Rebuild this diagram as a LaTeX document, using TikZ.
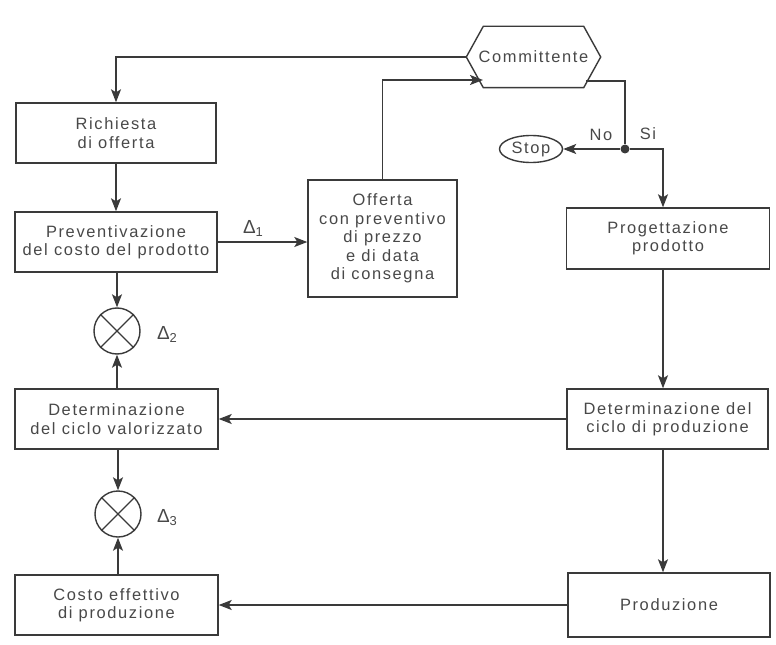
\documentclass[tikz,border=0pt]{standalone}
\usepackage{fontspec}
\setmainfont{Liberation Sans}
\newfontfamily\lblfont[LetterSpace=10]{Liberation Sans}
\usetikzlibrary{arrows.meta,shapes.geometric}
\definecolor{ink}{HTML}{3A3A3A}
\definecolor{txt}{HTML}{484848}
\newcommand{\dsub}[1]{{\fontsize{19}{19}\selectfont\char"0394}\raisebox{-3bp}{\fontsize{13}{13}\selectfont #1}}
\begin{document}
\begin{tikzpicture}[x=1bp,y=-1bp,
  line width=1.4bp,
  every node/.style={font=\lblfont\fontsize{16.5}{18.5}\selectfont, text=txt},
  box/.style={draw=ink, rectangle, align=center, inner sep=0pt},
  flow/.style={draw=ink, -{Stealth[length=13bp,width=10bp,inset=3bp]}},
  plain/.style={draw=ink},
  mix/.style={draw=ink, circle, minimum size=46bp, inner sep=0pt},
  lbl/.style={inner sep=0pt}]
\useasboundingbox (0,0) rectangle (776,645);

% process boxes
\node[box, minimum width=200bp, minimum height=60bp] (richiesta) at (116,133) {Richiesta\\di offerta};
\node[box, minimum width=202bp, minimum height=60bp] (prev) at (116,242) {Preventivazione\\del costo del prodotto};
\node[box, minimum width=149bp, minimum height=117bp] (offerta) at (382.5,238.5) {Offerta\\con preventivo\\di prezzo\\e di data\\di consegna};
\node[box, minimum width=203bp, minimum height=61bp] (prog) at (668,238.5) {Progettazione\\prodotto};
\node[box, minimum width=201bp, minimum height=60bp] (detprod) at (667.5,419) {Determinazione del\\ciclo di produzione};
\node[box, minimum width=203bp, minimum height=60bp] (detval) at (116.5,419) {Determinazione\\del ciclo valorizzato};
\node[box, minimum width=202bp, minimum height=64bp] (prod) at (669,605) {Produzione};
\node[box, minimum width=203bp, minimum height=60bp] (costo) at (116.5,605) {Costo effettivo\\di produzione};

% customer (hexagon)
\node[inner sep=0pt, minimum width=133bp, minimum height=60bp] (comm) at (533.5,57) {Committente};
\draw[ink] (comm.west) -- ([xshift=17bp]comm.north west) -- ([xshift=-17bp]comm.north east)
  -- (comm.east) -- ([xshift=-17bp]comm.south east) -- ([xshift=17bp]comm.south west) -- cycle;

% stop terminal and decision point
\node[draw=ink, ellipse, minimum width=63bp, minimum height=27bp, inner sep=0pt] (stop) at (531,149) {Stop};
\node[circle, fill=ink, minimum size=9bp, inner sep=0pt] (dec) at (625,149) {};

% comparison nodes
\node[mix] (c2) at (117,331) {};
\draw[ink] (c2.north west) -- (c2.south east) (c2.north east) -- (c2.south west);
\node[mix] (c3) at (118,514) {};
\draw[ink] (c3.north west) -- (c3.south east) (c3.north east) -- (c3.south west);

% connector end points on the hexagon edges
\coordinate (cin) at (483,80);
\coordinate (cout) at (586,81);
\coordinate (turn) at (663,149);

% connectors
\draw[flow] (comm.west) -| (richiesta.north);
\draw[flow] (richiesta) -- (prev);
\draw[flow] (prev.east) -- (prev.east -| offerta.west);
\draw[flow] (offerta.north) |- (cin);
\draw[plain] (cout) -| (dec);
\draw[flow] (dec) -- (stop.east);
\draw[flow] (dec) -- (turn) -- (turn |- prog.north);
\draw[flow] (prog.south -| turn) -- (turn |- detprod.north);
\draw[flow] (detprod.south -| turn) -- (turn |- prod.north);
\draw[flow] (detprod.west) -- (detval.east);
\draw[flow] (prod.west) -- (costo.east);
\draw[flow] (prev.south -| c2) -- (c2.north);
\draw[flow] (detval.north -| c2) -- (c2.south);
\draw[flow] (detval.south -| c3) -- (c3.north);
\draw[flow] (costo.north -| c3) -- (c3.south);

% labels
\node[lbl] (d1) at (253,228) {\dsub{1}};
\node[lbl] (d2) at (167,334) {\dsub{2}};
\node[lbl] (d3) at (167,518) {\dsub{3}};
\node[lbl] (no) at (601,135) {No};
\node[lbl] (si) at (648,134) {Si};
\end{tikzpicture}
\end{document}
